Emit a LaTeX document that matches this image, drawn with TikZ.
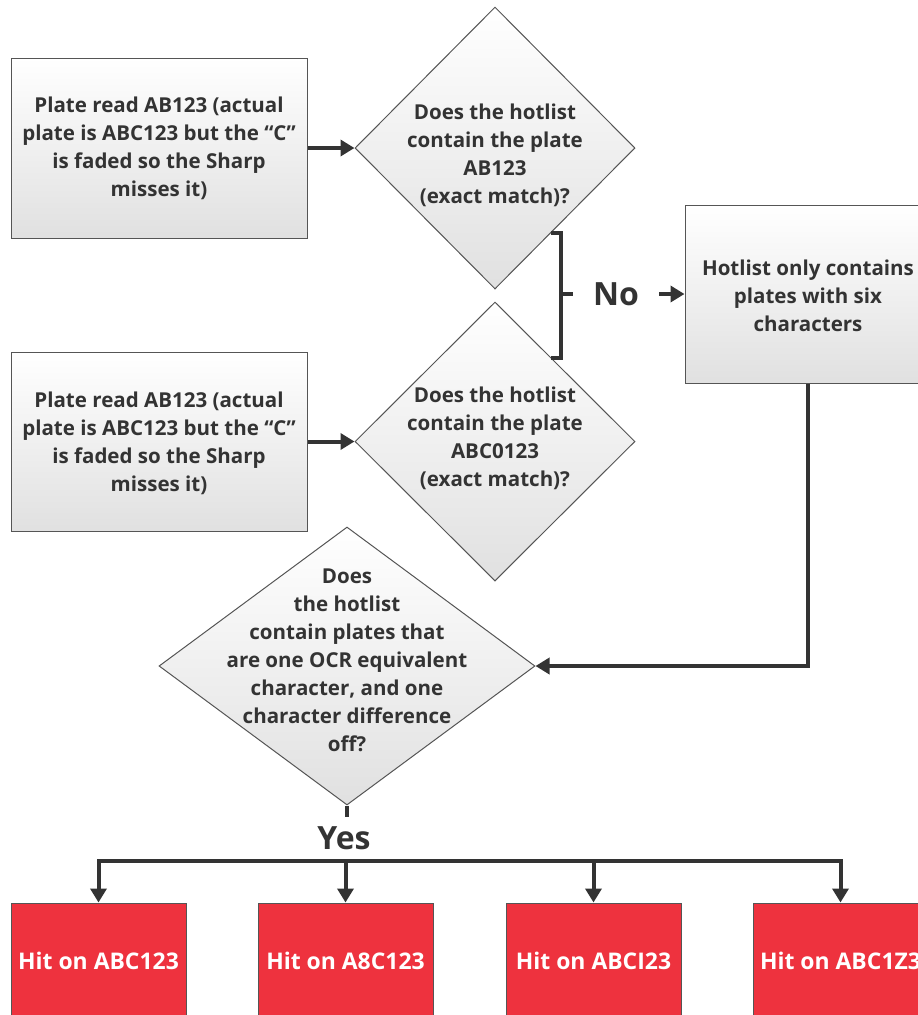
\documentclass[tikz,border=0pt]{standalone}
\usepackage{fontspec}
\setmainfont{Open Sans}
\usetikzlibrary{shapes.geometric,arrows.meta,calc}
\definecolor{ink}{HTML}{333333}
\definecolor{edge}{HTML}{555555}
\definecolor{hit}{HTML}{EE323E}
\begin{document}
\begin{tikzpicture}[x=0.75pt,y=-0.75pt,
  box/.style={draw=edge,line width=0.75pt,top color=white,bottom color=gray!24,inner sep=0pt},
  dia/.style={diamond,draw=edge,line width=0.75pt,top color=white,bottom color=gray!24,inner sep=0pt},
  txt/.style={text=ink,font=\bfseries\fontsize{15.4}{21}\selectfont,align=center,inner sep=0pt},
  conn/.style={draw=ink,line width=3pt},
  arr/.style={conn,-{Triangle[width=12pt,length=10.5pt]}},
  big/.style={text=ink,font=\bfseries\fontsize{24}{27}\selectfont},
  hitbox/.style={fill=hit,draw=edge,line width=0.75pt,inner sep=0pt,minimum width=175*0.75pt,minimum height=116*0.75pt,text=white,font=\bfseries\fontsize{17.2}{20}\selectfont}
]
\clip (0,0) rectangle (918,1015);
% boxes
\node[box,minimum width=296*0.75pt,minimum height=180*0.75pt] (b1) at (159,148) {};
\node[box,minimum width=296*0.75pt,minimum height=179*0.75pt] (b2) at (159,441.5) {};
\node[box,minimum width=246*0.75pt,minimum height=178*0.75pt] (b3) at (808,294) {};
% diamonds
\node[dia,minimum width=280*0.75pt,minimum height=282*0.75pt] (d1) at (495,148) {};
\node[dia,minimum width=280*0.75pt,minimum height=279*0.75pt] (d2) at (495,441.5) {};
\node[dia,minimum width=376*0.75pt,minimum height=278*0.75pt] (d3) at (347,666) {};
% texts
\node[txt] (t1) at (159,148) {Plate read AB123 (actual\\plate is ABC123 but the “C”\\is faded so the Sharp\\misses it)};
\node[txt] (t2) at (159,443) {Plate read AB123 (actual\\plate is ABC123 but the “C”\\is faded so the Sharp\\misses it)};
\node[txt] (t3) at (495,155) {Does the hotlist\\contain the plate\\AB123\\(exact match)?};
\node[txt] (t4) at (495,438) {Does the hotlist\\contain the plate\\ABC0123\\(exact match)?};
\node[txt] (t5) at (808,296) {Hotlist only contains\\plates with six\\characters};
\node[txt] (t6) at (347,660.5) {Does\\the hotlist\\contain plates that\\are one OCR equivalent\\character, and one\\character difference\\off?};
% red boxes
\node[hitbox] (r1) at (98.5,961) {Hit on ABC123};
\node[hitbox] (r2) at (345.5,961) {Hit on A8C123};
\node[hitbox] (r3) at (593.5,961) {Hit on ABCI23};
\node[hitbox] (r4) at (840.5,961) {Hit on ABC1Z3};
% labels
\node[big,inner xsep=15pt,inner ysep=0pt] (no) at (616,294) {No};
\node[big,inner sep=0pt] (yes) at (344,838) {Yes};
% connectors
\draw[arr] (b1.east) -- (d1.west);
\draw[arr] (b2.east) -- (d2.west);
\coordinate (p1) at ($(d1.south)!0.4!(d1.east)$);
\coordinate (p2) at ($(d2.north)!0.4!(d2.east)$);
\coordinate (bk) at (561,294);
\draw[conn] (p1) -| (bk) |- (p2);
\draw[conn] (bk) -- (no.west);
\draw[arr] (no.east) -- (b3.west);
\draw[arr] (b3.south) |- (d3.east);
\coordinate (ystub) at (347,817);
\draw[conn] (d3.south) -- (ystub);
\coordinate (bus) at (0,861);
\draw[conn,line cap=rect] (r1.north |- bus) -- (r4.north |- bus);
\draw[arr] (r1.north |- bus) -- (r1.north);
\draw[arr] (r2.north |- bus) -- (r2.north);
\draw[arr] (r3.north |- bus) -- (r3.north);
\draw[arr] (r4.north |- bus) -- (r4.north);
\end{tikzpicture}
\end{document}
